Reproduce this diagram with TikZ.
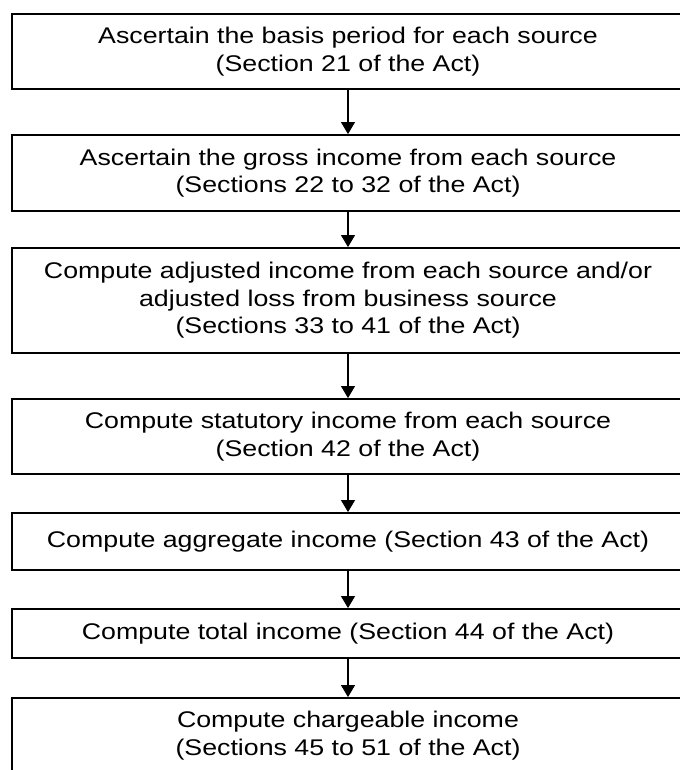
\documentclass[tikz,border=0pt]{standalone}
\usepackage{fontspec}
\setmainfont[FakeStretch=1.18]{Liberation Sans}
\usetikzlibrary{arrows.meta}

\tikzset{
  stepbox/.style={draw,line width=1.4pt,minimum width=672*0.75pt,inner sep=0pt,align=center,font=\fontsize{17pt}{20.6pt}\selectfont},
  flow/.style={-{Triangle[width=10.5pt,length=9pt]},line width=0.8pt}
}

\begin{document}
\begin{tikzpicture}[x=0.75pt,y=-0.75pt]
  \useasboundingbox (0,0) rectangle (679,770);
  \node[stepbox,minimum height=75*0.75pt] (basis) at (348,51.5) {Ascertain the basis period for each source\\(Section 21 of the Act)};
  \node[stepbox,minimum height=76*0.75pt] (gross) at (348,173) {Ascertain the gross income from each source\\(Sections 22 to 32 of the Act)};
  \node[stepbox,minimum height=105*0.75pt] (adjusted) at (348,300.5) {Compute adjusted income from each source and/or\\adjusted loss from business source\\(Sections 33 to 41 of the Act)};
  \node[stepbox,minimum height=75*0.75pt] (statutory) at (348,436.5) {Compute statutory income from each source\\(Section 42 of the Act)};
  \node[stepbox,minimum height=57*0.75pt] (aggregate) at (348,541.5) {Compute aggregate income (Section 43 of the Act)};
  \node[stepbox,minimum height=49*0.75pt] (total) at (348,633.5) {Compute total income (Section 44 of the Act)};
  \node[stepbox,minimum height=75*0.75pt] (chargeable) at (348,735.5) {Compute chargeable income\\(Sections 45 to 51 of the Act)};

  \draw[flow] (basis) to (gross);
  \draw[flow] (gross) to (adjusted);
  \draw[flow] (adjusted) to (statutory);
  \draw[flow] (statutory) to (aggregate);
  \draw[flow] (aggregate) to (total);
  \draw[flow] (total) to (chargeable);
\end{tikzpicture}
\end{document}
